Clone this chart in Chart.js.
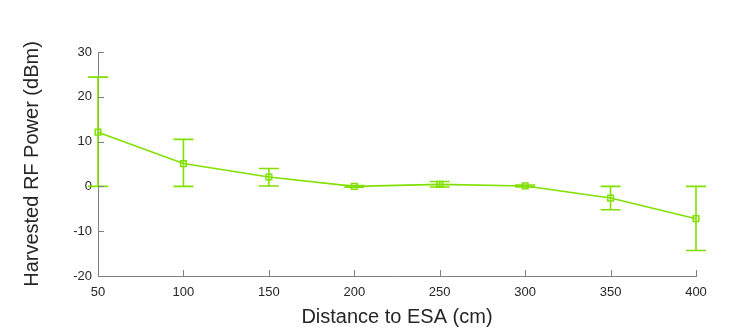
<!DOCTYPE html>
<html>
<head>
<meta charset="utf-8">
<script src="https://cdn.jsdelivr.net/npm/chart.js@4"></script>
<style>
  html, body { margin: 0; padding: 0; background: #fff; }
  #wrap { width: 754px; height: 332px; position: relative; }
</style>
</head>
<body>
<div id="wrap"><canvas id="myChart" width="754" height="332"></canvas></div>
<script>
// distance to ESA (cm)
var distances = [50, 100, 150, 200, 250, 300, 350, 400];
// harvested RF power (dBm), mean and error bar ends
var power = [12.1, 5.1, 2.1, 0.0, 0.45, 0.1, -2.6, -7.2];
var errTop = [24.4, 10.5, 4.0, 0.2, 1.1, 0.3, 0.0, 0.0];
var errBottom = [0.0, 0.0, 0.1, -0.2, -0.15, -0.1, -5.2, -14.3];

var xTicks = [50, 100, 150, 200, 250, 300, 350, 400];
var yTicks = [-20, -10, 0, 10, 20, 30];

var lineColor = '#80e000';
var axisColor = '#808080';
var textColor = '#262626';

var punkte = [];
for (let i = 0; i < distances.length; i++) {
    punkte.push({x: distances[i], y: power[i]});
}

// error bars, drawn from the scales
const fehlerbalken = {
    id: 'fehlerbalken',
    afterDatasetsDraw(chart) {
        const ctx = chart.ctx;
        const xs = chart.scales.x, ys = chart.scales.y;
        ctx.save();
        ctx.strokeStyle = lineColor;
        ctx.lineWidth = 1.6;
        for (let i = 0; i < distances.length; i++) {
            let px = xs.getPixelForValue(distances[i]);
            let top = ys.getPixelForValue(errTop[i]);
            let bot = ys.getPixelForValue(errBottom[i]);
            ctx.beginPath();
            ctx.moveTo(px, top); ctx.lineTo(px, bot);
            ctx.moveTo(px - 10, top); ctx.lineTo(px + 10, top);
            ctx.moveTo(px - 10, bot); ctx.lineTo(px + 10, bot);
            ctx.stroke();
        }
        ctx.restore();
    }
};

// inward ticks like matlab
const innenTicks = {
    id: 'innenTicks',
    afterDraw(chart) {
        const ctx = chart.ctx;
        const xs = chart.scales.x, ys = chart.scales.y;
        const a = chart.chartArea;
        ctx.save();
        ctx.strokeStyle = axisColor;
        ctx.lineWidth = 1;
        ctx.beginPath();
        xTicks.forEach(function(v) {
            let px = Math.round(xs.getPixelForValue(v)) + 0.5;
            ctx.moveTo(px, a.bottom); ctx.lineTo(px, a.bottom - 6);
        });
        yTicks.forEach(function(v) {
            let py = Math.round(ys.getPixelForValue(v)) + 0.5;
            ctx.moveTo(a.left, py); ctx.lineTo(a.left + 6, py);
        });
        ctx.stroke();
        ctx.restore();
    }
};

new Chart("myChart", {
    type: "line",
    data: {
        datasets: [{
            data: punkte,
            borderColor: lineColor,
            borderWidth: 1.6,
            pointStyle: 'rect',
            pointRadius: 4,
            pointBorderWidth: 1.5,
            pointBorderColor: lineColor,
            pointBackgroundColor: 'rgba(0,0,0,0)',
            fill: false,
            clip: false,
            tension: 0
        }]
    },
    options: {
        responsive: false,
        animation: false,
        layout: {padding: {left: 20, top: 52, right: 58, bottom: 0}},
        plugins: {legend: {display: false}, tooltip: {enabled: false}},
        scales: {
            x: {
                type: 'linear',
                min: 50, max: 400,
                afterBuildTicks: function(s) { s.ticks = xTicks.map(v => ({value: v})); },
                afterFit: function(s) { s.height = 56; },
                grid: {display: true, drawOnChartArea: false, drawTicks: false, color: axisColor},
                border: {display: true, color: axisColor, width: 1},
                ticks: {color: textColor, font: {family: 'Liberation Sans', size: 13}, padding: 9, maxRotation: 0},
                title: {display: true, text: 'Distance to ESA (cm)', color: textColor,
                        font: {family: 'Liberation Sans', size: 20}, padding: {top: 0, bottom: 3}}
            },
            y: {
                min: -20, max: 30,
                afterBuildTicks: function(s) { s.ticks = yTicks.map(v => ({value: v})); },
                afterFit: function(s) { s.width = 78; },
                grid: {display: true, drawOnChartArea: false, drawTicks: false, color: axisColor},
                border: {display: true, color: axisColor, width: 1},
                ticks: {color: textColor, font: {family: 'Liberation Sans', size: 13}, padding: 6},
                title: {display: true, text: 'Harvested RF Power (dBm)', color: textColor,
                        font: {family: 'Liberation Sans', size: 20}, padding: {top: 0, bottom: 4}}
            }
        }
    },
    plugins: [fehlerbalken, innenTicks]
});
</script>
</body>
</html>
